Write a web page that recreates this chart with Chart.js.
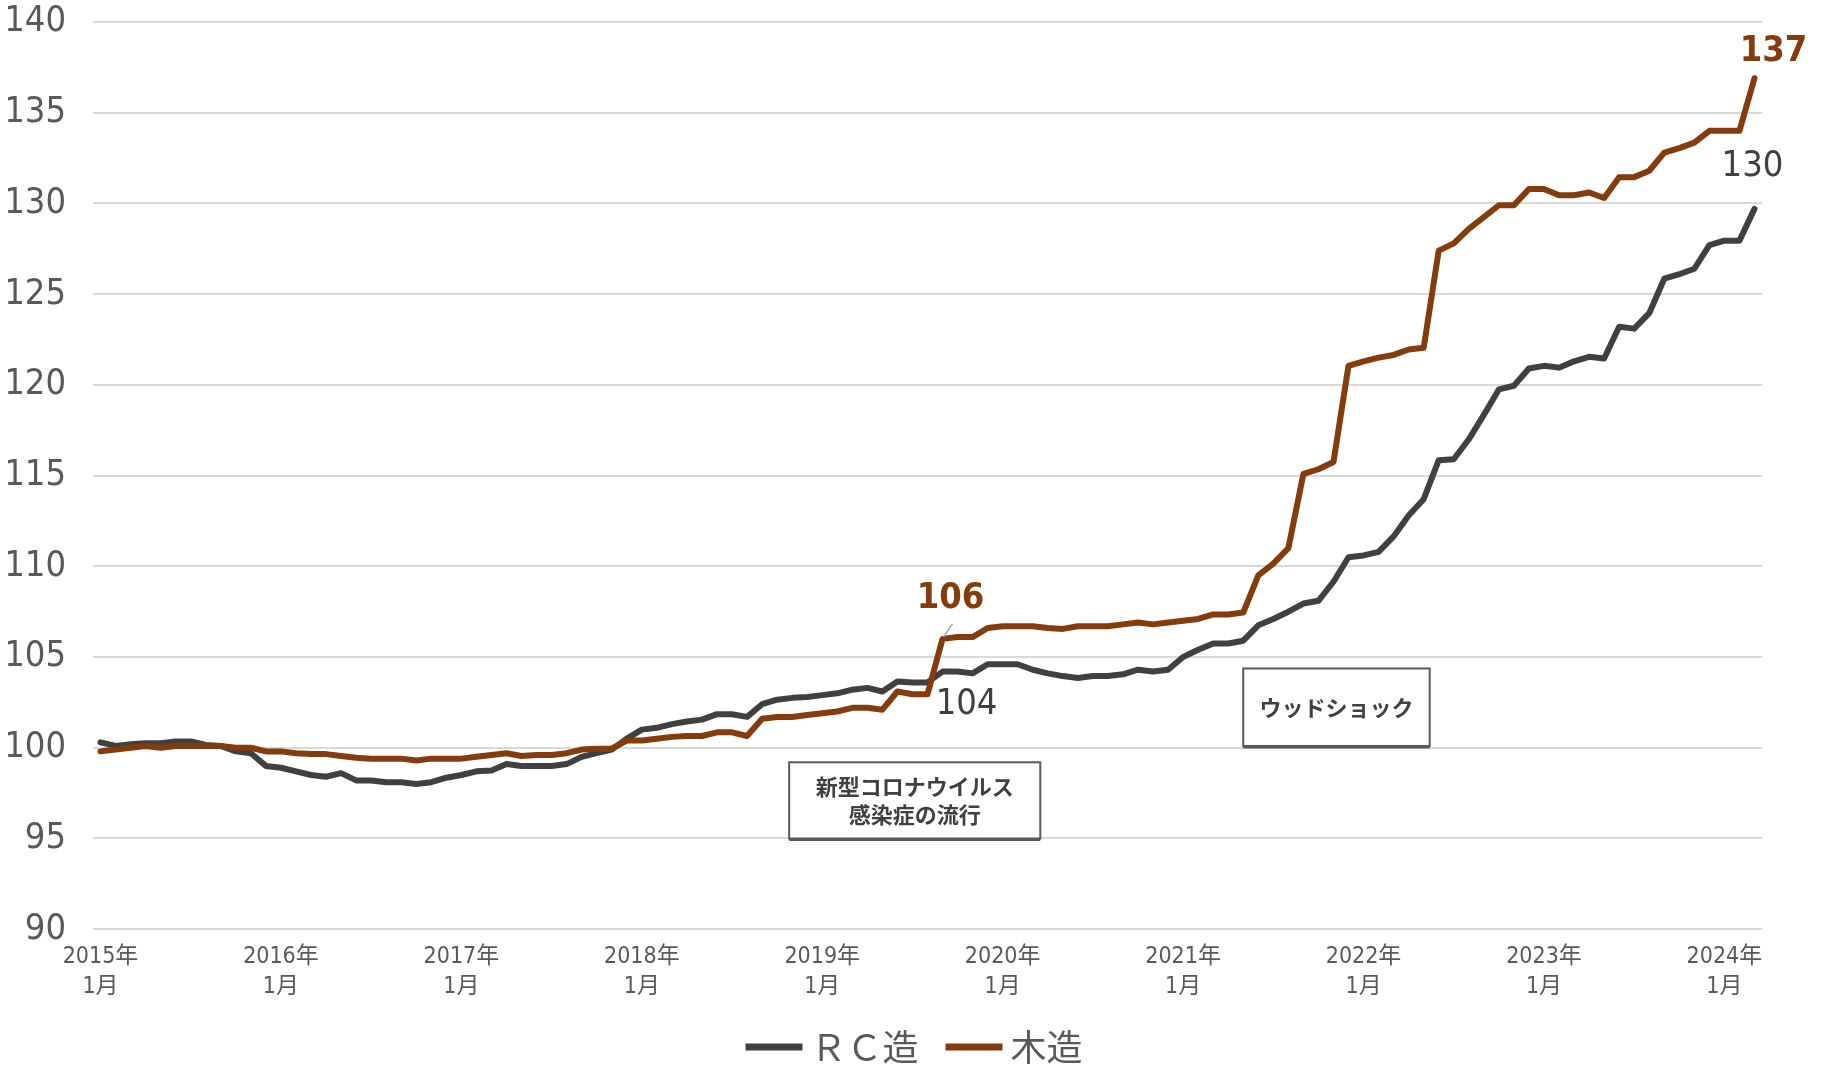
<!DOCTYPE html>
<html lang="ja">
<head>
<meta charset="utf-8">
<title>建築費指数</title>
<script src="https://cdn.jsdelivr.net/npm/chart.js@4.4.1/dist/chart.umd.min.js"></script>
<style>
  html, body { margin: 0; padding: 0; background: #fff; }
  #wrap { width: 1828px; height: 1067px; position: relative; }
</style>
</head>
<body>
<div id="wrap"><canvas id="grafica"></canvas></div>
<script>
// datos mensuales 2015年1月 .. 2024年3月
var anios = [2015, 2016, 2017, 2018, 2019, 2020, 2021, 2022, 2023, 2024];
var ultimoMes = 3;
var nombres = ['ＲＣ造', '木造'];
var colores = ['#404040', '#843C0C'];

var rc = [
  100.3, 100.1, 100.2, 100.25, 100.25, 100.35, 100.35, 100.15, 100.1, 99.8, 99.7, 99.0,
  98.9, 98.7, 98.5, 98.4, 98.6, 98.2, 98.2, 98.1, 98.1, 98.0, 98.1, 98.35,
  98.5, 98.7, 98.75, 99.1, 99.0, 99.0, 99.0, 99.1, 99.5, 99.7, 99.9, 100.5,
  101.0, 101.1, 101.3, 101.45, 101.55, 101.85, 101.85, 101.7, 102.4, 102.65, 102.75, 102.8,
  102.9, 103.0, 103.2, 103.3, 103.1, 103.65, 103.6, 103.6, 104.2, 104.2, 104.1, 104.6,
  104.6, 104.6, 104.3, 104.1, 103.95, 103.85, 103.95, 103.95, 104.05, 104.3, 104.2, 104.3,
  105.0, 105.4, 105.75, 105.75, 105.9, 106.75, 107.1, 107.5, 107.95, 108.1, 109.15, 110.5,
  110.6, 110.8, 111.65, 112.8, 113.7, 115.85, 115.9, 117.0, 118.35, 119.75, 119.95, 120.9,
  121.05, 120.95, 121.3, 121.55, 121.45, 123.2, 123.1, 123.95, 125.85, 126.1, 126.4, 127.7,
  127.95, 127.95, 129.7
];
var mokuzo = [
  99.8, 99.9, 100.0, 100.1, 100.0, 100.1, 100.1, 100.1, 100.1, 100.0, 100.0, 99.8,
  99.8, 99.7, 99.65, 99.65, 99.55, 99.45, 99.4, 99.4, 99.4, 99.3, 99.4, 99.4,
  99.4, 99.5, 99.6, 99.7, 99.55, 99.6, 99.6, 99.7, 99.9, 99.95, 99.95, 100.4,
  100.4, 100.5, 100.6, 100.65, 100.65, 100.85, 100.85, 100.65, 101.6, 101.7, 101.7, 101.8,
  101.9, 102.0, 102.2, 102.2, 102.1, 103.1, 102.95, 102.95, 106.0, 106.1, 106.1, 106.6,
  106.7, 106.7, 106.7, 106.6, 106.55, 106.7, 106.7, 106.7, 106.8, 106.9, 106.8, 106.9,
  107.0, 107.1, 107.35, 107.35, 107.45, 109.5, 110.15, 111.0, 115.1, 115.35, 115.75, 121.05,
  121.3, 121.5, 121.65, 121.95, 122.05, 127.4, 127.8, 128.6, 129.25, 129.9, 129.9, 130.8,
  130.8, 130.45, 130.45, 130.6, 130.3, 131.45, 131.45, 131.8, 132.8, 133.05, 133.35, 134.0,
  134.0, 134.0, 136.9
];
var ejeY = { min: 90, max: 140, paso: 5 };

var meses = [];
anios.forEach(function(a){
  for (var m = 1; m <= 12; m++) {
    if (a === anios[anios.length - 1] && m > ultimoMes) break;
    meses.push(a + '年' + m + '月');
  }
});

var angosta = "'Liberation Sans Narrow', 'DejaVu Sans Condensed', 'Noto Sans CJK JP', sans-serif";
var japonesa = "'Noto Sans CJK JP', sans-serif";

// cuadros de texto y etiquetas de valor
var cajas = [
  { desde: 45.8, hasta: 62.5, arriba: 99.2, abajo: 95.0, texto: ['新型コロナウイルス', '感染症の流行'] },
  { desde: 76.0, hasta: 88.4, arriba: 104.37, abajo: 100.1, texto: ['ウッドショック'] }
];
var etiquetas = [
  { serie: 1, i: 56, dx: 8, dy: -40, negrita: true, guia: true },
  { serie: 0, i: 56, dx: 24, dy: 33, negrita: false },
  { serie: 1, i: 110, dx: 19, dy: -27, negrita: true },
  { serie: 0, i: 110, dx: -2, dy: -42, negrita: false }
];

var notas = {
  id: 'notas',
  afterDatasetsDraw: function(chart) {
    var ctx = chart.ctx, sx = chart.scales.x, sy = chart.scales.y;
    ctx.save();
    cajas.forEach(function(c){
      var x1 = sx.getPixelForValue(c.desde), x2 = sx.getPixelForValue(c.hasta);
      var y1 = sy.getPixelForValue(c.arriba), y2 = sy.getPixelForValue(c.abajo);
      ctx.fillStyle = '#fff';
      ctx.fillRect(x1, y1, x2 - x1, y2 - y1);
      ctx.strokeStyle = '#595959';
      ctx.lineWidth = 2;
      ctx.strokeRect(x1, y1, x2 - x1, y2 - y1);
      ctx.lineWidth = 3;
      ctx.beginPath(); ctx.moveTo(x1, y2 + 1); ctx.lineTo(x2, y2 + 1); ctx.stroke();
      ctx.fillStyle = '#404040';
      ctx.font = 'bold 22px ' + japonesa;
      ctx.textAlign = 'center';
      ctx.textBaseline = 'middle';
      var cx = (x1 + x2) / 2, cy = (y1 + y2) / 2, lh = 28;
      c.texto.forEach(function(t, k){
        ctx.fillText(t, cx, cy + (k - (c.texto.length - 1) / 2) * lh);
      });
    });
    etiquetas.forEach(function(e){
      var datos = chart.data.datasets[e.serie].data;
      var px = sx.getPixelForValue(e.i), py = sy.getPixelForValue(datos[e.i]);
      if (e.guia) {
        ctx.strokeStyle = '#a6a6a6';
        ctx.lineWidth = 1.5;
        ctx.beginPath(); ctx.moveTo(px + 10, py - 15); ctx.lineTo(px + 1, py - 2); ctx.stroke();
      }
      ctx.fillStyle = colores[e.serie];
      ctx.font = (e.negrita ? 'bold ' : '') + '36px ' + angosta;
      ctx.textAlign = 'center';
      ctx.textBaseline = 'middle';
      ctx.fillText(String(Math.round(datos[e.i])), px + e.dx, py + e.dy);
    });
    ctx.restore();
  },
  // leyenda inferior centrada en el lienzo
  afterDraw: function(chart) {
    var ctx = chart.ctx;
    var marca = 57, hueco = 8, entre = 27, yl = chart.height - 20;
    ctx.save();
    ctx.font = '36px ' + japonesa;
    ctx.textBaseline = 'middle';
    ctx.textAlign = 'left';
    var anchos = nombres.map(function(n){ return ctx.measureText(n).width; });
    var total = 0;
    anchos.forEach(function(w, k){ total += marca + hueco + w + (k > 0 ? entre : 0); });
    var x = chart.width / 2 - total / 2;
    nombres.forEach(function(n, k){
      if (k > 0) x += entre;
      ctx.fillStyle = colores[k];
      ctx.fillRect(x, yl - 3.5, marca, 7);
      x += marca + hueco;
      ctx.fillStyle = '#595959';
      ctx.fillText(n, x, yl);
      x += anchos[k];
    });
    ctx.restore();
  }
};

var ctx = document.getElementById('grafica').getContext('2d');
var chart = new Chart(ctx, {
  type: 'line',
  data: {
    labels: meses,
    datasets: [
      { label: nombres[0], data: rc, borderColor: colores[0], backgroundColor: colores[0], order: 1 },
      { label: nombres[1], data: mokuzo, borderColor: colores[1], backgroundColor: colores[1], order: 0 }
    ]
  },
  options: {
    responsive: true,
    maintainAspectRatio: false,
    animation: false,
    layout: { padding: { left: 8, right: 66, top: 22, bottom: 52 } },
    elements: {
      line: { borderWidth: 6, tension: 0, borderJoinStyle: 'round', borderCapStyle: 'round' },
      point: { radius: 0, hoverRadius: 0 }
    },
    scales: {
      x: {
        type: 'category',
        offset: true,
        grid: { display: false, drawTicks: false },
        border: { display: false },
        ticks: {
          autoSkip: false,
          maxRotation: 0,
          padding: 13,
          color: '#595959',
          font: { family: angosta, size: 23, lineHeight: 1.3 },
          callback: function(v, i) {
            if (i % 12 !== 0) return '';
            return [anios[i / 12] + '年', '1月'];
          }
        }
      },
      y: {
        min: ejeY.min,
        max: ejeY.max,
        grid: { color: '#d9d9d9', lineWidth: 2, drawTicks: false },
        border: { display: false },
        afterFit: function(s) { s.width = 85; s.paddingTop = 0; s.paddingBottom = 0; },
        ticks: {
          stepSize: ejeY.paso,
          padding: 27,
          color: '#595959',
          font: { family: angosta, size: 36 }
        }
      }
    },
    plugins: {
      tooltip: { enabled: false },
      legend: { display: false }
    }
  },
  plugins: [notas]
});
</script>
</body>
</html>
